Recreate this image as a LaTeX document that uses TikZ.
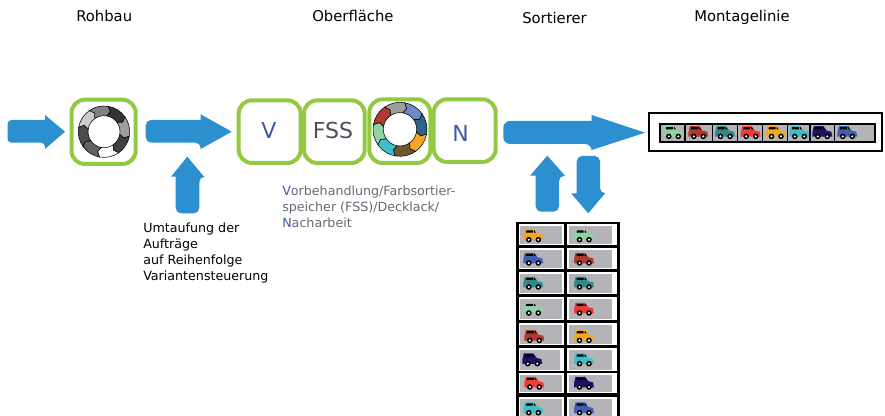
\documentclass[tikz,border=0pt]{standalone}
\usepackage{fontspec}
\setmainfont{DejaVu Sans}

\definecolor{arrowblue}{RGB}{43,143,208}
\definecolor{stationgreen}{RGB}{146,200,66}
\definecolor{letterblue}{RGB}{61,90,168}
\definecolor{lettergray}{RGB}{74,79,90}
\definecolor{cellgray}{RGB}{179,179,184}
\definecolor{carorange}{RGB}{245,166,35}
\definecolor{carmint}{RGB}{143,211,165}
\definecolor{carbrown}{RGB}{176,58,46}
\definecolor{carteal}{RGB}{46,139,139}
\definecolor{carred}{RGB}{238,59,59}
\definecolor{carcyan}{RGB}{63,191,200}
\definecolor{carnavy}{RGB}{27,20,100}
\definecolor{carblue}{RGB}{63,95,176}

\tikzset{
  blockarrow/.style={fill=arrowblue,draw=none},
  stationbox/.style={draw=stationgreen,line width=3pt,rounded corners=10},
  headtext/.style={anchor=north west,inner sep=0.75pt,align=left,font=\fontsize{11.1}{13}\selectfont},
  smalltext/.style={anchor=north west,inner sep=0.75pt,align=left,font=\fontsize{9.5}{12}\selectfont},
  bigletter/.style={inner sep=0.75pt,font=\fontsize{16.5}{20}\selectfont}
}

% one piece of a ring: centre x, centre y, angle, colour, outer, inner
\newcommand{\ringpiece}[6]{
\begin{scope}[shift={(#1,#2)}]
\draw [fill=#4,line width=0.4pt] (#3:#5) arc [start angle=#3,end angle=#3+45,radius=#5] -- ({#3+53}:{(#5+#6)/2}) -- ({#3+45}:#6) arc [start angle=#3+45,end angle=#3,radius=#6] -- ({#3+8}:{(#5+#6)/2}) -- cycle ;
\end{scope}
}
% small car: centre x, centre y, colour
\newcommand{\smallcar}[3]{
\begin{scope}[shift={(#1,#2)}]
\fill [#3] (-10,0) -- (-8.5,-6.5) -- (1,-6.5) -- (4.5,-2) -- (9,-1) -- (10,4) -- (-10,4) -- cycle ;
\fill [black] (-7,-5.5) -- (-0.5,-5.5) -- (-0.5,-3.3) -- (-7.5,-3.3) -- cycle ;
\fill [black] (0.5,-5.5) -- (1.2,-5.5) -- (2.6,-3.3) -- (0.5,-3.3) -- cycle ;
\fill [black] (-4.5,3.7) circle (2.8) ;
\fill [black] (5,3.7) circle (2.8) ;
\fill [white] (-4.5,3.7) circle (1.2) ;
\fill [white] (5,3.7) circle (1.2) ;
\end{scope}
}
% rack cell: left, top, right, bottom of the white part, then right and bottom of the gray part
\newcommand{\rackcell}[6]{
\fill [white] (#1,#2) rectangle (#3,#4) ;
\fill [cellgray] ({#1+1.5},{#2+2.5}) rectangle (#5,#6) ;
}

\begin{document}
\begin{tikzpicture}[x=0.75pt,y=0.75pt,yscale=-1,xscale=1]
\clip (0,0) rectangle (885,416);

%Shape: Right Arrow [id:infeed]
\fill [blockarrow,rounded corners=3] (45,120) -- (7.5,120) -- (7.5,142.7) -- (45,142.7) [sharp corners] -- (45,149) -- (65,131.7) -- (45,115) -- cycle ;
%Shape: Right Arrow [id:rohbauout]
\fill [blockarrow,rounded corners=4] (200.7,120) -- (145.7,120) -- (145.7,142.7) -- (200.7,142.7) [sharp corners] -- (200.7,149) -- (231.7,131.7) -- (200.7,114.3) -- cycle ;
%Shape: Up Arrow [id:umlauf]
\fill [blockarrow,rounded corners=4] (175.7,176.7) -- (175.7,213.3) -- (199.3,213.3) -- (199.3,176.7) [sharp corners] -- (204,176.7) -- (187.3,156.7) -- (171,176.7) -- cycle ;
%Shape: Right Arrow [id:sortierout]
\fill [blockarrow,rounded corners=5] (591.7,121) -- (503.3,121) -- (503.3,144) -- (591.7,144) [sharp corners] -- (591.7,150) -- (645,132.7) -- (591.7,115) -- cycle ;
%Shape: Up Arrow [id:rackin]
\fill [blockarrow,rounded corners=4] (535.7,175.7) -- (535.7,211.7) -- (559,211.7) -- (559,175.7) [sharp corners] -- (565,175.7) -- (547.3,155.7) -- (530,175.7) -- cycle ;
%Shape: Down Arrow [id:rackout]
\fill [blockarrow,rounded corners=4] (576.7,193.3) -- (576.7,156) -- (600,156) -- (600,193.3) [sharp corners] -- (605,193.3) -- (588.3,213.3) -- (571,193.3) -- cycle ;

%Shape: Rounded Rectangle [id:rohbaubox]
\draw [stationbox] (71.5,99.7) rectangle (135.7,164) ;
%Shape: Rounded Rectangle [id:vbox]
\draw [stationbox] (238.7,100.3) rectangle (300.7,163) ;
%Shape: Rounded Rectangle [id:fssbox]
\draw [stationbox] (304,100.3) rectangle (364.7,163) ;
%Shape: Rounded Rectangle [id:lackbox]
\draw [stationbox] (369.3,99.3) rectangle (430.3,163) ;
%Shape: Rounded Rectangle [id:nbox]
\draw [stationbox] (433.7,99.3) rectangle (495.7,162) ;

%Ring in the Rohbau
\ringpiece{104}{131.7}{-125}{black!50!white}{25.7}{16}
\ringpiece{104}{131.7}{-80}{black!80!white}{25.7}{16}
\ringpiece{104}{131.7}{-35}{black!38!white}{25.7}{16}
\ringpiece{104}{131.7}{10}{black!75!white}{25.7}{16}
\ringpiece{104}{131.7}{55}{white}{25.7}{16}
\ringpiece{104}{131.7}{100}{black!62!white}{25.7}{16}
\ringpiece{104}{131.7}{145}{black!70!white}{25.7}{16}
\ringpiece{104}{131.7}{190}{black!20!white}{25.7}{16}
%Ring in the Oberflaeche
\ringpiece{400}{129.3}{-125}{black!38!white}{27}{16.7}
\ringpiece{400}{129.3}{-80}{carblue!75!white}{27}{16.7}
\ringpiece{400}{129.3}{-35}{carteal!50!carblue!85!black}{27}{16.7}
\ringpiece{400}{129.3}{10}{carorange}{27}{16.7}
\ringpiece{400}{129.3}{55}{carorange!35!black!85!white}{27}{16.7}
\ringpiece{400}{129.3}{100}{carcyan}{27}{16.7}
\ringpiece{400}{129.3}{145}{carmint}{27}{16.7}
\ringpiece{400}{129.3}{190}{carbrown}{27}{16.7}

%Shape: Rectangle [id:montagebox]
\draw [line width=1.5pt] (649,113.5) rectangle (882,151) ;
%Shape: Rectangle [id:montagestrip]
\draw [fill=cellgray,line width=1.2pt] (660,124) rectangle (875,142) ;
%Straight Lines [id:montagedividers]
\draw [line width=1.2pt] (685,124) -- (685,142) ;
\draw [line width=1.2pt] (712.3,124) -- (712.3,142) ;
\draw [line width=1.2pt] (737.3,124) -- (737.3,142) ;
\draw [line width=1.2pt] (762.3,124) -- (762.3,142) ;
\draw [line width=1.2pt] (787.3,124) -- (787.3,142) ;
\draw [line width=1.2pt] (810,124) -- (810,142) ;
\draw [line width=1.2pt] (834.3,124) -- (834.3,142) ;
%Cars on the line
\smallcar{673.3}{132.7}{carmint}
\smallcar{698.3}{132.7}{carbrown}
\smallcar{725}{132.7}{carteal}
\smallcar{750.7}{132.7}{carred}
\smallcar{776}{132.7}{carorange}
\smallcar{799.3}{132.7}{carcyan}
\smallcar{822.3}{132.7}{carnavy}
\smallcar{847.3}{132.7}{carblue}

%Shape: Rectangle [id:rack]
\fill [black] (515.7,221.7) rectangle (619.5,420) ;
%Rack cells, left column
\rackcell{518.5}{224}{563.5}{245}{562}{244}
\rackcell{518.5}{248}{563.5}{269}{562}{268}
\rackcell{518.5}{272}{563.5}{294}{562}{293}
\rackcell{518.5}{297}{563.5}{320}{562}{319}
\rackcell{518.5}{323}{563.5}{345}{562}{344}
\rackcell{518.5}{348}{563.5}{371}{560}{370}
\rackcell{518.5}{373}{563.5}{393}{562}{392}
\rackcell{518.5}{397}{563.5}{420}{562}{420}
%Rack cells, right column
\rackcell{567}{224}{617}{245}{612}{244}
\rackcell{567}{248}{617}{269}{612}{268}
\rackcell{567}{272}{617}{294}{612}{293}
\rackcell{567}{297}{617}{320}{612}{319}
\rackcell{567}{323}{617}{345}{612}{344}
\rackcell{567}{348}{617}{371}{612}{370}
\rackcell{567}{373}{617}{393}{612}{392}
\rackcell{567}{397}{617}{420}{612}{420}
%Cars in the rack
\smallcar{533.3}{236}{carorange}
\smallcar{533.3}{259.3}{carblue}
\smallcar{533.3}{283.3}{carteal}
\smallcar{533.3}{309.3}{carmint}
\smallcar{534.3}{336.7}{carbrown}
\smallcar{532.3}{360}{carnavy}
\smallcar{534.3}{383.3}{carred}
\smallcar{533.3}{409}{carcyan}
\smallcar{584}{236}{carmint}
\smallcar{584}{259.3}{carbrown}
\smallcar{584}{283.3}{carteal}
\smallcar{584}{309.3}{carred}
\smallcar{584}{336.7}{carorange}
\smallcar{584}{360}{carcyan}
\smallcar{584}{383.3}{carnavy}
\smallcar{584}{409}{carblue}

% Text Node
\draw (75,9) node (rohbau) [headtext] {Rohbau};
% Text Node
\draw (311,9) node (oberflaeche) [headtext] {Oberfläche};
% Text Node
\draw (521,11) node (sortierer) [headtext] {Sortierer};
% Text Node
\draw (693,9) node (montagelinie) [headtext] {Montagelinie};
% Text Node
\draw (268.8,130) node (vletter) [bigletter,text=letterblue] {V};
% Text Node
\draw (333,130) node (fssletter) [bigletter,text=lettergray] {FSS};
% Text Node
\draw (460.5,133) node (nletter) [bigletter,text=letterblue] {N};
% Text Node
\draw (142,222) node (umlauftext) [smalltext] {Umtaufung der\\Aufträge\\auf Reihenfolge\\Variantensteuerung};
% Text Node
\draw (281,185) node (vorbehandlung) [smalltext,text=lettergray!85!white] {\textcolor{letterblue}{V}orbehandlung/Farbsortier-\\speicher (FSS)/Decklack/\\\textcolor{letterblue}{N}acharbeit};

\end{tikzpicture}
\end{document}
